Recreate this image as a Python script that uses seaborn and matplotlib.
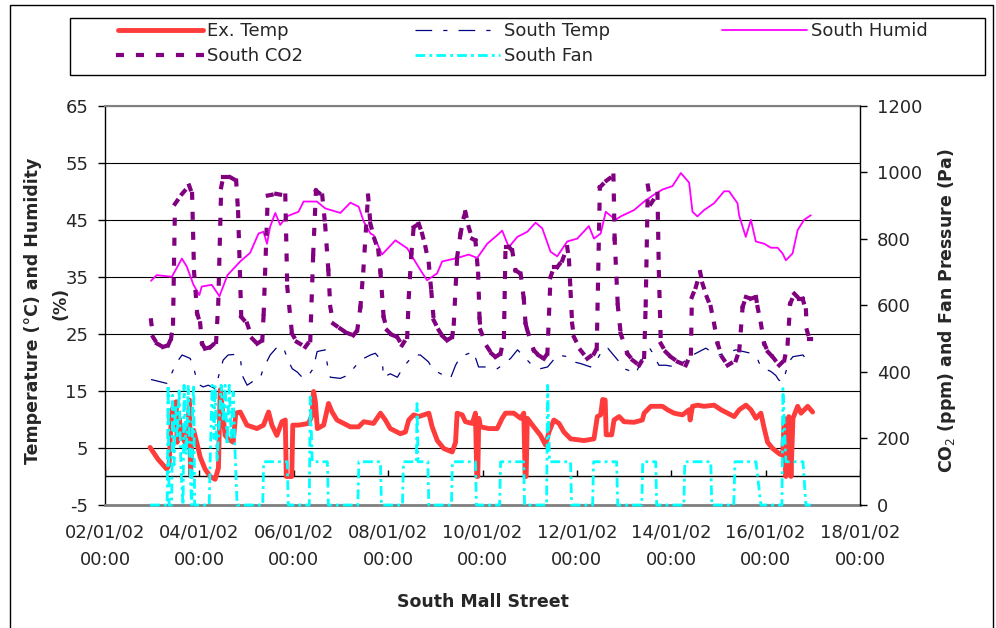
import matplotlib
matplotlib.use("Agg")
import numpy as np
import pandas as pd
import matplotlib.pyplot as plt
import matplotlib.dates as mdates
import seaborn as sns
from matplotlib.collections import LineCollection
from matplotlib.lines import Line2D
from matplotlib.patches import Rectangle

sns.set_theme(style="white")
plt.rcParams["font.family"] = ["DejaVu Sans"]
plt.rcParams["lines.scale_dashes"] = False
plt.rcParams["axes.unicode_minus"] = False

##########
#  Data  #
##########
# (hours since 02/01/02 00:00, value)
START = pd.Timestamp("2002-01-02 00:00")
END = pd.Timestamp("2002-01-18 00:00")

ex_temp = [(22.9,5.1),(27.0,3.0),(31.4,1.3),(32.6,2.0),(33.4,8.1),(34.1,11.5),(35.1,12.8),(36.2,13.1),(36.7,6.0),(37.7,10.2),
           (39.2,6.9),(40.7,6.0),(42.3,9.6),(43.0,13.4),(43.5,0.3),(44.3,7.2),(45.1,8.1),(47.4,4.9),(48.4,3.4),(50.9,1.3),
           (53.5,0.0),(56.0,-0.5),(57.7,1.5),(58.6,15.2),(59.6,12.0),(61.1,7.2),(62.6,6.6),(65.2,6.0),(66.5,11.1),(68.8,11.3),
           (72.2,9.0),(77.3,8.4),(80.6,9.0),(83.2,11.3),(84.9,9.0),(87.4,7.2),(90.0,9.6),(91.7,9.9),(92.2,0.0),(95.0,0.0),
           (95.5,9.0),(98.4,9.0),(103.5,9.3),(105.3,10.7),(106.1,14.9),(107.0,13.1),(108.0,8.4),(111.2,9.0),(113.7,12.8),(115.5,11.3),
           (118.0,9.9),(124.8,8.7),(129.0,8.7),(131.6,9.6),(136.6,9.3),(140.1,11.1),(142.6,9.9),(145.1,8.4),(150.2,7.5),(152.8,7.8),
           (154.5,9.9),(157.0,10.8),(159.6,10.5),(164.7,11.1),(166.4,8.7),(169.0,6.3),(172.3,4.9),(176.6,4.3),(178.3,6.0),(179.1,11.1),
           (181.7,10.8),(183.3,9.6),(186.8,9.3),(188.4,11.1),(189.1,0.0),(189.6,0.0),(190.1,10.2),(191.0,8.7),(195.2,8.4),(199.5,8.4),
           (202.0,10.2),(203.7,11.1),(207.9,11.1),(211.4,10.2),(213.0,11.1),(213.7,0.0),(214.2,0.0),(214.8,10.2),(218.1,8.7),(221.5,7.2),
           (224.1,5.5),(225.8,7.8),(228.3,9.9),(230.9,9.3),(233.4,7.8),(236.8,6.6),(243.6,6.3),(248.7,6.6),(250.4,10.5),(252.1,10.8),
           (253.1,13.5),(254.4,13.4),(254.9,7.3),(257.7,7.3),(258.9,9.9),(261.5,10.5),(264.0,9.6),(269.1,9.5),(273.3,9.9),(274.2,11.1),
           (277.6,12.3),(283.5,12.3),(286.1,11.7),(289.4,11.1),(293.7,10.8),(297.1,11.7),(297.6,9.9),(298.8,12.3),(301.4,12.5),(304.7,12.3),
           (309.8,12.5),(313.3,11.7),(316.7,11.1),(320.0,10.5),(322.6,11.7),(326.0,12.5),(328.5,11.7),(331.1,10.2),(333.6,11.1),(335.3,8.4),
           (337.0,6.0),(339.6,4.9),(342.9,4.0),(344.6,3.7),(345.5,10.2),(346.3,0.0),(347.8,10.5),(348.9,0.0),(349.9,10.2),(352.3,12.3),
           (354.0,11.1),(357.4,12.3),(359.9,11.3)]

south_temp = [(23.4,17.0),(27.0,16.7),(31.6,16.3),(34.6,18.6),(36.7,20.1),(39.2,21.3),(43.3,20.7),(44.8,19.5),(46.3,17.4),(48.4,16.0),
              (49.9,15.7),(52.5,16.0),(56.0,15.4),(58.6,18.6),(60.1,20.4),(62.6,21.3),(66.2,21.4),(68.8,21.0),(69.8,17.7),(72.3,16.0),
              (74.9,16.6),(78.9,17.2),(80.5,18.9),(84.0,21.3),(87.6,22.7),(90.7,22.7),(92.7,20.7),(95.2,18.9),(97.8,18.3),(100.8,17.2),
              (103.4,17.7),(105.9,18.9),(107.9,21.9),(112.0,22.2),(113.0,19.8),(114.6,17.4),(119.7,17.2),(123.2,17.7),(126.3,18.9),(129.9,20.4),
              (135.0,21.3),(137.5,21.6),(141.1,20.1),(141.6,17.4),(145.1,18.0),(148.7,17.4),(151.8,19.2),(156.9,21.3),(160.4,21.3),(164.5,20.1),
              (166.6,18.9),(169.1,18.3),(174.2,17.4),(175.7,17.2),(178.3,19.5),(180.8,21.0),(187.4,21.9),(190.0,19.2),(193.5,19.2),(199.6,18.9),
              (206.3,20.7),(209.8,22.2),(216.4,19.8),(221.5,18.9),(225.1,19.2),(230.2,21.3),(235.3,21.0),(238.3,20.1),(241.9,19.8),(247.0,19.2),
              (250.6,20.7),(253.6,22.5),(255.7,22.5),(260.8,20.4),(263.8,18.9),(266.4,18.6),(269.9,18.0),(273.0,20.4),(276.6,22.7),(278.1,21.9),
              (281.7,19.5),(285.2,19.5),(290.3,19.2),(294.4,20.1),(299.5,21.4),(305.6,22.5),(308.1,21.9),(312.2,21.3),(320.9,22.2),(328.5,21.6),
              (332.1,20.4),(333.6,19.2),(338.7,18.4),(341.2,17.7),(342.7,16.9),(344.8,16.6),(347.8,20.1),(349.9,21.0),(355.0,21.3),(357.5,20.1),
              (359.0,19.5)]

south_humid = [(23.4,34.3),(26.3,35.3),(34.0,35.0),(39.1,38.2),(41.6,36.8),(45.0,33.6),(48.0,31.8),(49.2,33.3),(54.3,33.6),(58.2,31.6),
               (62.3,35.3),(68.8,37.7),(73.8,39.2),(78.1,42.6),(80.6,42.9),(82.4,40.8),(84.0,43.8),(86.6,46.2),(89.1,44.1),(92.5,45.6),
               (98.4,46.4),(101.0,48.2),(107.8,48.2),(112.0,47.0),(119.7,46.2),(124.8,48.0),(129.0,47.3),(131.6,44.7),(135.0,42.6),(136.6,42.3),
               (140.9,38.9),(147.7,41.4),(153.7,40.0),(160.4,36.2),(163.8,34.4),(168.9,35.6),(171.5,37.7),(179.1,38.3),(185.0,38.9),(189.3,38.3),
               (194.4,40.8),(199.5,42.3),(202.0,43.1),(205.4,40.2),(209.7,42.0),(214.8,42.9),(219.0,44.5),(222.4,43.5),(226.6,39.4),(230.0,38.6),
               (235.1,41.2),(240.2,41.7),(246.1,43.9),(248.7,41.7),(252.1,42.6),(254.7,46.4),(259.7,45.0),(262.3,45.6),(269.1,46.7),(274.2,48.2),
               (279.2,49.4),(283.5,50.3),(288.6,50.9),(292.9,53.2),(297.1,51.5),(298.8,46.4),(301.3,45.6),(304.7,46.7),(309.8,47.9),(314.9,50.0),
               (317.4,50.0),(321.7,47.9),(322.5,45.8),(325.9,42.0),(328.5,45.0),(331.0,41.2),(335.3,40.8),(338.7,40.1),(342.1,40.1),(344.6,39.1),
               (346.3,37.9),(349.7,39.1),(352.3,43.2),(355.6,45.0),(359.0,45.8)]

south_co2 = [(23.4,555),(24.4,505),(26.5,485),(29.5,475),(32.1,480),(33.6,500),(34.6,545),(35.6,905),(39.2,935),(42.8,960),
             (44.3,935),(45.3,700),(46.9,575),(48.4,546),(49.4,485),(50.9,470),(53.5,474),(56.5,490),(57.6,605),(59.1,955),
             (60.1,985),(63.7,985),(66.7,975),(67.7,880),(69.3,565),(72.3,545),(74.9,500),(77.4,485),(80.0,495),(80.7,575),
             (82.8,930),(87.1,935),(91.7,930),(92.7,655),(95.1,515),(97.6,490),(101.9,475),(104.4,495),(105.9,755),(107.3,945),
             (110.5,930),(112.0,840),(113.6,705),(114.6,595),(116.1,545),(119.7,530),(122.7,518),(126.3,510),(128.3,525),(129.9,595),
             (131.4,705),(133.8,930),(135.0,845),(137.0,800),(139.0,765),(140.1,700),(141.7,565),(143.5,525),(145.7,512),(148.6,505),
             (151.1,480),(153.7,505),(154.5,625),(155.8,755),(157.0,835),(159.6,845),(161.3,815),(163.0,775),(164.7,725),(166.0,640),
             (167.2,555),(169.8,525),(171.6,508),(174.0,495),(176.6,505),(177.4,545),(179.1,745),(180.8,815),(182.5,865),(183.3,880),
             (185.0,835),(186.8,800),(188.4,795),(189.8,695),(190.5,560),(191.0,525),(194.4,475),(196.6,455),(198.6,445),(201.2,455),
             (202.9,505),(203.7,775),(205.4,775),(207.1,765),(208.8,705),(211.4,695),(213.0,620),(213.9,545),(214.8,525),(218.1,465),
             (220.5,450),(223.2,440),(225.0,455),(226.6,685),(228.3,715),(230.0,715),(232.6,735),(235.1,775),(236.0,735),(236.8,640),
             (237.6,545),(238.5,505),(241.9,465),(245.3,440),(248.7,455),(250.1,470),(251.7,955),(255.1,975),(258.6,990),(259.2,800),
             (260.8,600),(262.3,515),(265.7,455),(268.4,435),(271.7,420),(274.2,445),(275.0,600),(276.1,960),(277.6,905),(281.0,935),
             (281.7,700),(282.7,485),(285.2,460),(287.8,445),(291.4,430),(295.4,420),(298.0,455),(298.5,625),(300.5,655),(302.7,700),
             (303.9,665),(306.1,625),(308.1,595),(309.8,545),(311.6,485),(313.8,445),(316.7,420),(320.9,435),(322.6,465),(324.3,595),
             (326.0,625),(328.5,620),(331.1,625),(331.9,595),(333.6,545),(335.3,485),(337.2,460),(339.6,445),(342.9,420),(345.5,435),
             (347.2,485),(348.5,605),(350.6,635),(353.1,620),(354.8,620),(356.5,585),(357.0,525),(358.2,500),(359.0,500)]

south_fan = [(22.9,0),(31.6,0),(32.1,360),(32.6,0),(33.9,0),(34.4,330),(35.1,120),(35.9,300),(36.7,200),(37.7,350),
             (38.7,100),(39.7,0),(40.2,360),(41.3,150),(42.3,360),(43.3,100),(44.1,0),(44.6,300),(45.1,360),(45.6,0),
             (53.0,0),(53.5,135),(54.5,360),(55.5,200),(56.0,360),(57.0,130),(59.1,360),(60.1,250),(61.1,360),(62.1,180),
             (63.2,360),(64.2,200),(65.2,340),(66.2,150),(67.2,0),(80.2,0),(80.7,130),(92.7,130),(93.2,0),(103.9,0),
             (104.4,325),(105.4,130),(113.1,130),(113.6,0),(128.6,0),(129.1,130),(140.1,130),(140.6,0),(151.3,0),(151.8,130),
             (158.4,130),(158.7,305),(159.2,130),(164.2,130),(164.7,0),(176.2,0),(176.7,130),(188.4,130),(188.9,0),(200.7,0),
             (201.2,130),(212.9,130),(213.4,0),(224.6,0),(225.1,360),(226.1,130),(236.8,130),(237.3,0),(248.0,0),(248.5,130),
             (260.2,130),(260.8,0),(273.0,0),(273.5,130),(280.1,130),(280.6,0),(294.4,0),(294.9,130),(308.1,130),(308.6,0),
             (319.8,0),(320.4,130),(331.1,130),(333.6,0),(344.3,0),(344.8,350),(346.3,130),(355.0,130),(356.5,0),(359.0,0)]

tick_labels = ["02/01/02\n00:00", "04/01/02\n00:00", "06/01/02\n00:00", "08/01/02\n00:00", "10/01/02\n00:00",
               "12/01/02\n00:00", "14/01/02\n00:00", "16/01/02\n00:00", "18/01/02\n00:00"]


def to_frame(pairs):
    df = pd.DataFrame(pairs, columns=["hours", "value"])
    df["time"] = START + pd.to_timedelta(df["hours"], unit="h")
    return df


RED = "#FF3C3C"
NAVY = "#000080"
MAGENTA = "#FF00FF"
PURPLE = "#800080"
CYAN = "#00FFFF"
FS = 13

##########
# Figure #
##########
fig = plt.figure(figsize=(9.96, 6.28), dpi=100)
ax = fig.add_axes([105 / 996, 123 / 628, 755 / 996, 399.3 / 628])

# Left axis series
sns.lineplot(data=to_frame(ex_temp), x="time", y="value", ax=ax, color=RED,
             linewidth=3.5, estimator=None, sort=False)
ex_line = ax.lines[-1]
sns.lineplot(data=to_frame(south_temp), x="time", y="value", ax=ax, color=NAVY,
             linewidth=0.9, linestyle=(0, (12, 8, 3, 8)), estimator=None, sort=False)
st_line = ax.lines[-1]
sns.lineplot(data=to_frame(south_humid), x="time", y="value", ax=ax, color=MAGENTA,
             linewidth=1.3, estimator=None, sort=False)
hum_line = ax.lines[-1]

# Right axis series
ax2 = ax.twinx()
co2 = to_frame(south_co2)
pts = np.column_stack([mdates.date2num(co2["time"].to_numpy()), co2["value"].to_numpy()])
segs = np.stack([pts[:-1], pts[1:]], axis=1)
lc = LineCollection(segs, colors=PURPLE, linewidths=3, linestyles=[(0, (2.8, 11.6))],
                    capstyle="projecting")
ax2.add_collection(lc)
co2_proxy = Line2D([], [], color=PURPLE, linewidth=3, dashes=(2.8, 11.6), dash_capstyle="projecting")

sns.lineplot(data=to_frame(south_fan), x="time", y="value", ax=ax2, color=CYAN,
             linewidth=2, linestyle=(0, (7, 3, 2, 3)), estimator=None, sort=False)
fan_line = ax2.lines[-1]
fan_line.set_clip_on(False)

############
# Decorate #
############
ax.set_xlim(START, END)
ax.set_ylim(-5, 65)
ax.set_yticks(range(-5, 66, 10))
ax2.set_ylim(0, 1200)
ax2.set_yticks(range(0, 1201, 200))

tick_days = pd.date_range(START, END, freq="2D")
ax.set_xticks(tick_days, labels=tick_labels)
for lab in ax.get_xticklabels():
    lab.set_linespacing(1.7)

ax.grid(axis="y", color="black", linewidth=0.8)
ax.grid(axis="x", visible=False)
ax2.grid(False)

# category axis crossing at zero
ax.axhline(0, color="black", linewidth=1, zorder=1.6)
ax.vlines(tick_days, 0, 1.1, color="black", linewidth=1, zorder=1.6)

ax.spines["top"].set_color("#808080")
ax.spines["top"].set_linewidth(1.5)
ax.spines["bottom"].set_color("#808080")
ax.spines["bottom"].set_linewidth(2)
ax.spines["left"].set_color("black")
ax.spines["left"].set_linewidth(1)
ax.spines["right"].set_visible(False)
for s in ["top", "bottom", "left"]:
    ax2.spines[s].set_visible(False)
ax2.spines["right"].set_color("black")
ax2.spines["right"].set_linewidth(1)

ax.tick_params(axis="y", direction="out", length=5, width=1, color="black",
               labelsize=FS, pad=7, left=True)
ax.tick_params(axis="x", length=0, labelsize=FS, pad=13)
ax2.tick_params(axis="y", direction="out", length=5, width=1, color="black",
                labelsize=FS, pad=7, right=True)

# Axis titles
ax.set_ylabel("Temperature (°C) and Humidity", fontsize=12.5, fontweight="bold")
ax.yaxis.set_label_coords(-0.0834, 0.486)
ax.text(-0.0583, 0.505, "(%)", transform=ax.transAxes, rotation=90, ha="center",
        va="center", fontsize=12.5, fontweight="bold")
ax2.set_ylabel("CO$_2$ (ppm) and Fan Pressure (Pa)", fontsize=12.5, fontweight="bold")
ax2.yaxis.set_label_coords(1.1007, 0.486)
ax.set_xlabel("South Mall Street", fontsize=12.5, fontweight="bold")
ax.xaxis.set_label_coords(0.5, -0.220)

# Legend
fig.add_artist(Rectangle((70 / 996, 1 - 75 / 628), 915 / 996, 57 / 628,
                         transform=fig.transFigure, fill=False, edgecolor="black", linewidth=1))
fig.legend([ex_line, co2_proxy, st_line, fan_line, hum_line],
           ["Ex. Temp", "South CO2", "South Temp", "South Fan", "South Humid"],
           ncol=3, loc="upper left", bbox_to_anchor=(118 / 996, 1 - 22 / 628),
           frameon=False, fontsize=FS, handlelength=4.7, handletextpad=0.22,
           columnspacing=6.2, labelspacing=0.38, borderpad=0, borderaxespad=0)

# Chart area border
fig.add_artist(Rectangle((10 / 996, -0.05), 983 / 996, 1.05 - 5 / 628,
                         transform=fig.transFigure, fill=False, edgecolor="black", linewidth=1))

fig.savefig("out.png", dpi=100, facecolor="white")
